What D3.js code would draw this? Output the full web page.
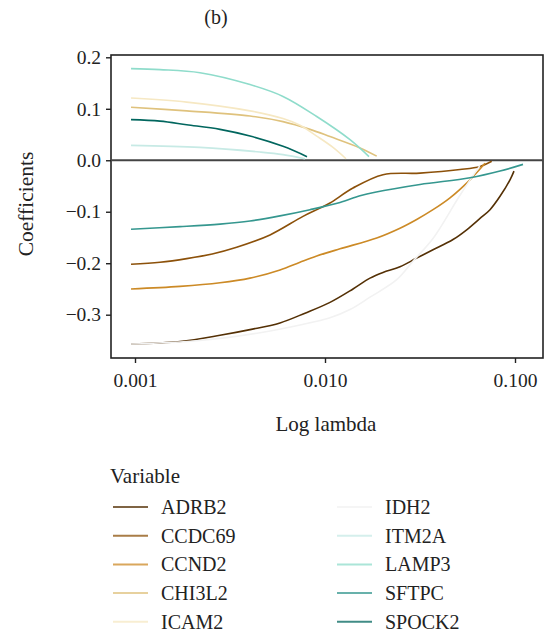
<!DOCTYPE html>
<html>
<head>
<meta charset="utf-8">
<script src="https://cdn.jsdelivr.net/npm/d3@7"></script>
<style>
  body { margin: 0; background: #fff; }
  text { font-family: "Liberation Serif", "DejaVu Serif", serif; fill: #222; }
</style>
</head>
<body>
<div id="chart"></div>
<script>
// lasso coefficient paths, [lambda, coefficient]
var ADRB2 = [[0.000953, -0.357], [0.001725, -0.352], [0.002802, -0.340], [0.00403, -0.329], [0.005797, -0.316],
    [0.007848, -0.297], [0.010624, -0.276], [0.014042, -0.250], [0.017253, -0.229], [0.0202, -0.218],
    [0.02481, -0.207], [0.030378, -0.190], [0.037021, -0.174], [0.047173, -0.154], [0.055688, -0.135],
    [0.065436, -0.113], [0.073868, -0.096], [0.083405, -0.070], [0.094125, -0.038], [0.098788, -0.021]];
var CCDC69 = [[0.000953, -0.202], [0.001354, -0.198], [0.001871, -0.191], [0.00255, -0.182], [0.003428, -0.169],
    [0.005135, -0.145], [0.00766, -0.109], [0.009412, -0.093], [0.010624, -0.083], [0.014042, -0.054],
    [0.0202, -0.028], [0.031623, -0.025], [0.051335, -0.018], [0.065436, -0.012], [0.075413, -0.002]];
var CCND2 = [[0.000953, -0.250], [0.001725, -0.245], [0.002802, -0.238], [0.00403, -0.229], [0.005797, -0.213],
    [0.007386, -0.198], [0.009044, -0.186], [0.011993, -0.172], [0.018716, -0.151], [0.02481, -0.132],
    [0.030378, -0.115], [0.037021, -0.096], [0.045491, -0.073], [0.05797, -0.038], [0.069531, -0.006]];
var CHI3L2 = [[0.000953, 0.103], [0.001871, 0.096], [0.00403, 0.086], [0.00601, 0.075], [0.008337, 0.060],
    [0.010624, 0.046], [0.015284, 0.024], [0.018716, 0.008]];
var ICAM2 = [[0.000953, 0.121], [0.001871, 0.113], [0.00403, 0.096], [0.00601, 0.081], [0.007386, 0.068],
    [0.009044, 0.047], [0.011017, 0.025], [0.012897, 0.003]];
var IDH2 = [[0.000953, -0.357], [0.002198, -0.350], [0.004549, -0.335], [0.007386, -0.320], [0.010624, -0.306],
    [0.01354, -0.290], [0.017253, -0.266], [0.023847, -0.232], [0.029047, -0.196], [0.037021, -0.152],
    [0.051335, -0.068], [0.065436, -0.010]];
var ITM2A = [[0.000953, 0.029], [0.002198, 0.025], [0.004549, 0.016], [0.00601, 0.011], [0.007848, 0.003]];
var LAMP3 = [[0.000953, 0.178], [0.001354, 0.176], [0.002198, 0.170], [0.00403, 0.147], [0.00601, 0.124],
    [0.009044, 0.085], [0.01354, 0.040], [0.017045, 0.007]];
var SFTPC = [[0.000953, -0.134], [0.001725, -0.129], [0.002802, -0.124], [0.00403, -0.118], [0.005797, -0.108],
    [0.008337, -0.096], [0.011993, -0.082], [0.015284, -0.069], [0.018336, -0.062], [0.031623, -0.047],
    [0.05797, -0.034], [0.083405, -0.021], [0.11017, -0.008]];
var SPOCK2 = [[0.000953, 0.079], [0.001354, 0.076], [0.001871, 0.069], [0.002802, 0.060], [0.00403, 0.047],
    [0.00601, 0.027], [0.00804, 0.007]];

var variables = ["ADRB2", "CCDC69", "CCND2", "CHI3L2", "ICAM2", "IDH2", "ITM2A", "LAMP3", "SFTPC", "SPOCK2"];
var paths = [ADRB2, CCDC69, CCND2, CHI3L2, ICAM2, IDH2, ITM2A, LAMP3, SFTPC, SPOCK2];
var xTicks = [0.001, 0.01, 0.1];
var yTicks = [-0.3, -0.2, -0.1, 0.0, 0.1, 0.2];

var palette = ["#543005", "#8c510a", "#cc8a26", "#dfc27d", "#f6e8c3",
    "#f2f2f2", "#c7eae5", "#8fdccb", "#35978f", "#01665e"];

var width = 553, height = 633;
var frame = { left: 111, right: 543, top: 55, bottom: 358 };

var svg = d3.select("#chart").append("svg")
    .attr("width", width)
    .attr("height", height);

var x = d3.scaleLog()
    .domain([0.001, 0.1])
    .range([135, 515]);

var y = d3.scaleLinear()
    .domain([-0.3, 0.2])
    .range([314.7, 57.3]);

var color = d3.scaleOrdinal()
    .domain(variables)
    .range(palette);

// frame
svg.append("rect")
    .attr("x", frame.left)
    .attr("y", frame.top)
    .attr("width", frame.right - frame.left)
    .attr("height", frame.bottom - frame.top)
    .attr("fill", "none")
    .attr("stroke", "#222")
    .attr("stroke-width", 1.6);

// zero line
svg.append("line")
    .attr("x1", frame.left)
    .attr("x2", frame.right)
    .attr("y1", y(0))
    .attr("y2", y(0))
    .attr("stroke", "#444")
    .attr("stroke-width", 2);

var line = d3.line()
    .x(function (d) { return x(d[0]); })
    .y(function (d) { return y(d[1]); })
    .curve(d3.curveCatmullRom.alpha(0.5));

svg.append("g")
    .selectAll("path")
    .data(paths)
    .enter()
    .append("path")
    .attr("d", line)
    .attr("fill", "none")
    .attr("stroke", function (d, i) { return color(variables[i]); })
    .attr("stroke-width", 1.6);

// axes
var yAxis = svg.append("g")
    .attr("transform", "translate(" + frame.left + ",0)")
    .call(d3.axisLeft(y).tickValues(yTicks).tickFormat(d3.format(".1f")).tickSize(5).tickPadding(5).tickSizeOuter(0));

var xAxis = svg.append("g")
    .attr("transform", "translate(0," + frame.bottom + ")")
    .call(d3.axisBottom(x).tickValues(xTicks).tickFormat(d3.format(".3f")).tickSize(5).tickPadding(10).tickSizeOuter(0));

[yAxis, xAxis].forEach(function (g) {
    g.select(".domain").remove();
    g.selectAll(".tick line").attr("stroke", "#222").attr("stroke-width", 1.4);
    g.selectAll(".tick text")
        .attr("fill", "#222")
        .style("font-family", "'Liberation Serif', serif")
        .style("font-size", "19.5px");
});

// titles
svg.append("text")
    .attr("x", 216)
    .attr("y", 24)
    .attr("text-anchor", "middle")
    .style("font-size", "20px")
    .text("(b)");

svg.append("text")
    .attr("transform", "translate(33,204) rotate(-90)")
    .attr("text-anchor", "middle")
    .style("font-size", "21.5px")
    .text("Coefficients");

svg.append("text")
    .attr("x", 326)
    .attr("y", 431)
    .attr("text-anchor", "middle")
    .style("font-size", "21px")
    .text("Log lambda");

// legend
var legend = svg.append("g");

legend.append("text")
    .attr("x", 110)
    .attr("y", 483)
    .style("font-size", "21px")
    .text("Variable");

var items = legend.selectAll(".item")
    .data(variables)
    .enter()
    .append("g")
    .attr("class", "item")
    .attr("transform", function (d, i) {
        var col = Math.floor(i / 5), row = i % 5;
        return "translate(" + (113 + col * 224) + "," + (507 + row * 28.7) + ")";
    });

items.append("line")
    .attr("x1", 0)
    .attr("x2", 35)
    .attr("stroke", function (d) { return color(d); })
    .attr("stroke-opacity", 0.75)
    .attr("stroke-width", 2);

items.append("text")
    .attr("x", 48)
    .attr("dy", "0.35em")
    .style("font-size", "20px")
    .text(function (d) { return d; });
</script>
</body>
</html>
